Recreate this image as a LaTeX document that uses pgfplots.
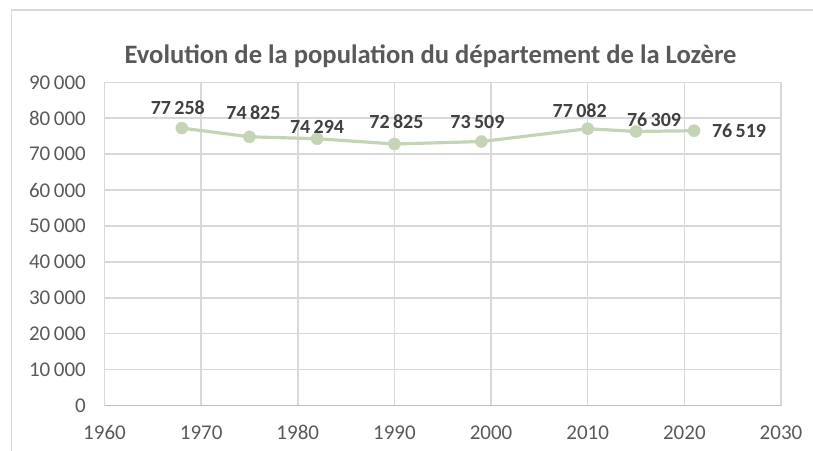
\documentclass[border=0pt]{standalone}
\usepackage{fontspec}
\setmainfont{Carlito}
\usepackage{pgfplots}
\usepackage{pgfplotstable}
\pgfplotsset{compat=1.18}
\definecolor{linec}{HTML}{C5D4B6}
\definecolor{gridc}{HTML}{D9D9D9}
\definecolor{axc}{HTML}{BFBFBF}
\definecolor{tickc}{HTML}{595959}
\definecolor{labc}{HTML}{404040}
\pgfplotstableread{
x y dx dy
1968 77258 -4 20
1975 74825 4 24
1982 74294 0 12
1990 72825 2 22
1999 73509 -4 20
2010 77082 -8 18
2015 76309 18 12
2021 76519 45 0
}\data
\begin{document}
\begin{tikzpicture}
\useasboundingbox (-104.5pt,-44.5pt) rectangle (708.5pt,405.5pt);
\draw[gridc, line width=1.5pt] (-93pt,-50pt) -- (-93pt,395.5pt) -- (715pt,395.5pt);
\node[anchor=base, inner sep=0pt, text=tickc, font=\fontsize{26.6}{32}\selectfont\bfseries] at (326pt,342.2pt) {Evolution de la population du département de la Lozère};
\begin{axis}[
  scale only axis, width=676.5pt, height=323.2pt,
  at={(0,0)}, anchor=south west,
  xmin=1960, xmax=2030, ymin=0, ymax=90000,
  xtick distance=10, ytick distance=10000,
  scaled x ticks=false, scaled y ticks=false,
  /pgf/number format/assume math mode=true,
  /pgf/number format/1000 sep={\,},
  x tick label style={/pgf/number format/1000 sep={}},
  axis lines=left,
  axis line style={-},
  x axis line style={axc, line width=1.5pt},
  y axis line style={gridc, line width=1.5pt},
  major tick length=0pt,
  grid=major,
  major grid style={gridc, line width=1.5pt},
  tick label style={font=\fontsize{21}{25}\selectfont, text=tickc, inner sep=0pt},
  xticklabel style={anchor=north, text height=13.3pt, text depth=0pt, yshift=-20pt},
  yticklabel style={xshift=-18.5pt},
  clip=false,
]
\addplot[color=linec, line width=3.2pt, mark=*, mark size=6pt,
  mark options={fill=linec, draw=linec, line width=0.5pt, solid},
  nodes near coords, point meta=explicit,
  visualization depends on={\thisrow{dx}\as\dx},
  visualization depends on={\thisrow{dy}\as\dy},
  nodes near coords style={anchor=center, inner sep=0pt, xshift=\dx pt, yshift=\dy pt,
    font=\fontsize{20}{24}\selectfont\bfseries, text=labc}]
  table[x=x, y=y, meta=y]{\data};
\end{axis}
\end{tikzpicture}
\end{document}
